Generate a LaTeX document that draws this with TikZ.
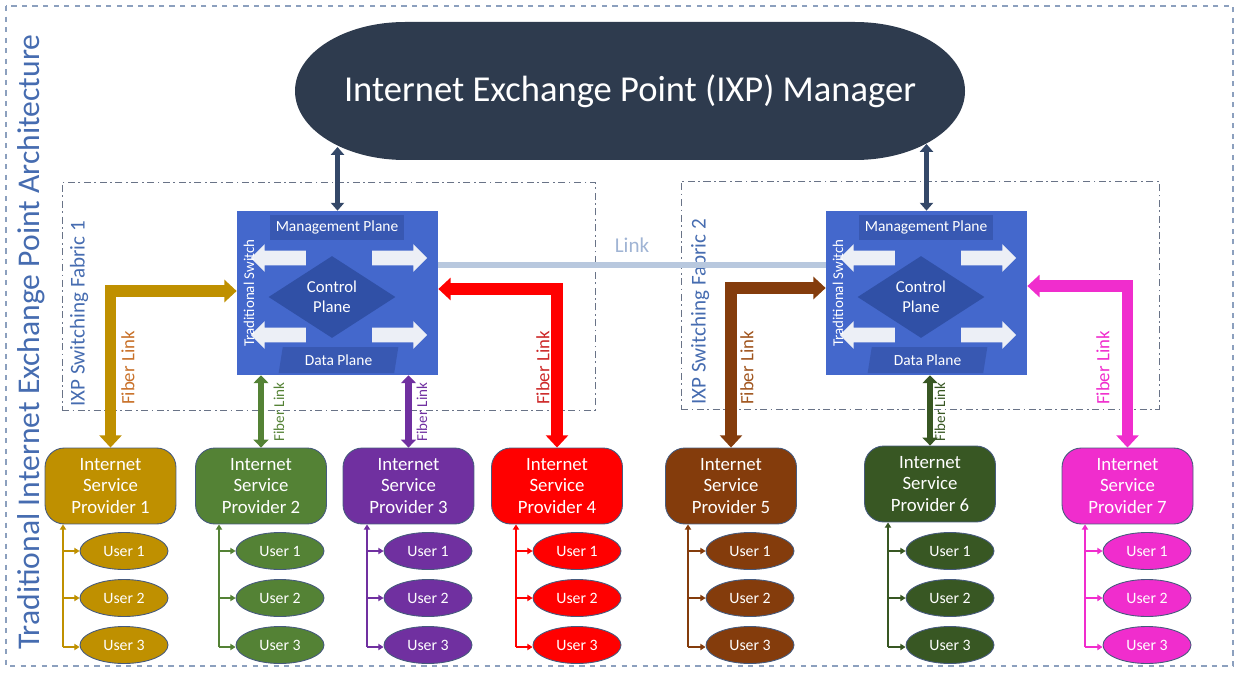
\documentclass[tikz,border=0pt]{standalone}
\usepackage{fontspec}
\setmainfont{Carlito}
\usepackage{tikz}
\usetikzlibrary{shapes,arrows.meta,positioning}

\definecolor{titleblue}{RGB}{70,108,176}
\definecolor{outerline}{RGB}{140,160,190}
\definecolor{fabricline}{RGB}{105,115,135}
\definecolor{mgrnavy}{RGB}{46,59,78}
\definecolor{mgrarrow}{RGB}{52,72,104}
\definecolor{switchblue}{RGB}{68,104,204}
\definecolor{planeblue}{RGB}{56,88,178}
\definecolor{ctrlblue}{RGB}{48,80,166}
\definecolor{whitearrow}{RGB}{236,239,246}
\definecolor{linkgrey}{RGB}{184,200,222}
\definecolor{linktext}{RGB}{160,180,212}
\definecolor{edgegrey}{RGB}{70,90,125}
\definecolor{ispgold}{RGB}{191,144,0}
\definecolor{ispgreen}{RGB}{84,130,53}
\definecolor{isppurple}{RGB}{112,48,160}
\definecolor{ispred}{RGB}{255,0,0}
\definecolor{ispbrown}{RGB}{132,60,12}
\definecolor{ispdkgreen}{RGB}{56,87,35}
\definecolor{isppink}{RGB}{240,45,205}
\definecolor{goldlabel}{RGB}{200,112,40}
\definecolor{redlabel}{RGB}{205,40,40}
\definecolor{brownlabel}{RGB}{160,85,30}

\tikzstyle{outer} = [draw=outerline, dashed, line width=0.6pt]
\tikzstyle{fabric} = [draw=fabricline, line width=0.5pt, dash pattern=on 4pt off 2pt on 1pt off 2pt, minimum height=4.56cm, inner sep=0pt]
\tikzstyle{fabriclabel} = [text=titleblue, rotate=90, anchor=west, font=\fontsize{12}{14}\selectfont, inner sep=0pt]
\tikzstyle{title} = [text=titleblue, rotate=90, font=\fontsize{18}{21}\selectfont, inner sep=0pt]
\tikzstyle{mgr} = [text=white, minimum width=13.4cm, minimum height=2.76cm, font=\fontsize{20.8}{24}\selectfont]
\tikzstyle{mgrlink} = [draw=mgrarrow, line width=2.6pt, {Triangle[width=7.5pt,length=4.5pt]}-{Triangle[width=7.5pt,length=4.5pt]}]
\tikzstyle{switch} = [fill=switchblue, minimum width=4.02cm, minimum height=3.28cm, inner sep=0pt]
\tikzstyle{plane} = [fill=planeblue, text=white, font=\fontsize{8.8}{10}\selectfont, inner sep=0pt]
\tikzstyle{ctrl} = [diamond, fill=ctrlblue, text=white, align=center, minimum width=2.54cm, minimum height=1.6cm, inner sep=0pt, font=\fontsize{9.5}{11.5}\selectfont]
\tikzstyle{warrow} = [single arrow, fill=whitearrow, minimum height=1.1cm, inner sep=0.14cm, single arrow head extend=0.13cm]
\tikzstyle{swlabel} = [text=white, rotate=90, font=\fontsize{8.5}{10}\selectfont, inner sep=0pt]
\tikzstyle{ixplink} = [draw=linkgrey, line width=3.8pt]
\tikzstyle{fiber} = [line width=6.5pt, line join=miter, {Triangle[width=12.5pt,length=7pt]}-{Triangle[width=12.5pt,length=7pt]}]
\tikzstyle{fiberthin} = [line width=3.6pt, {Triangle[width=8.5pt,length=4.5pt]}-{Triangle[width=8.5pt,length=4.5pt]}]
\tikzstyle{fiberlabel} = [rotate=90, font=\fontsize{10.7}{12}\selectfont, inner sep=0pt]
\tikzstyle{fibersmall} = [rotate=90, font=\fontsize{8.6}{10}\selectfont, inner sep=0pt]
\tikzstyle{isp} = [rounded corners=11pt, draw=edgegrey, line width=0.5pt, text=white, align=center, minimum width=2.62cm, minimum height=1.52cm, inner sep=0pt, font=\fontsize{10.7}{12.5}\selectfont]
\tikzstyle{user} = [ellipse, draw=edgegrey, line width=0.5pt, text=white, minimum width=1.76cm, minimum height=0.74cm, inner sep=0pt, font=\fontsize{9}{10}\selectfont]
\tikzstyle{branch} = [line width=0.7pt, -{Triangle[width=3.6pt,length=3pt]}]

\begin{document}
\begin{tikzpicture}[x=0.02cm, y=-0.02cm]
	\useasboundingbox (0,0) rectangle (1239,672);

	% frame and title
	\draw [outer] (6,6) rectangle (1233,666);
	\node [title] (ttl) at (31,342) {Traditional Internet Exchange Point Architecture};

	% switching fabrics
	\node [fabric, minimum width=10.66cm] (f1) at (328.5,296) {};
	\node [fabric, minimum width=9.56cm] (f2) at (920,295) {};
	\node [fabriclabel] (fl1) at (79,407) {IXP Switching Fabric 1};
	\node [fabriclabel] (fl2) at (700,405) {IXP Switching Fabric 2};

	% manager
	\fill [mgrnavy] (405,22) -- (855,22) arc[start angle=-90, end angle=90, x radius=110, y radius=69]
		-- (405,160) arc[start angle=90, end angle=270, x radius=110, y radius=69] -- cycle;
	\node [mgr] (mgr) at (630,91) {Internet Exchange Point (IXP) Manager};

	% switches
	\node [switch] (s1) at (337.5,293) {};
	\node [plane, minimum width=2.68cm, minimum height=0.5cm] (mp1) at (337,227.5) {Management Plane};
	\node [ctrl] (cp1) at (332,297) {Control\\Plane};
	\node [plane, trapezium, trapezium left angle=77, trapezium right angle=103, trapezium stretches=true, minimum width=2.4cm, minimum height=0.52cm] (dp1) at (338.5,360) {Data Plane};
	\node [warrow, shape border rotate=180] (a11) at (282,258) {};
	\node [warrow] (a12) at (396,258) {};
	\node [warrow, shape border rotate=180] (a13) at (282,335) {};
	\node [warrow] (a14) at (396,335) {};
	\node [swlabel] (ts1) at (249,293) {Traditional Switch};

	\node [switch] (s2) at (926.5,293) {};
	\node [plane, minimum width=2.68cm, minimum height=0.5cm] (mp2) at (926,227.5) {Management Plane};
	\node [ctrl] (cp2) at (921,297) {Control\\Plane};
	\node [plane, trapezium, trapezium left angle=77, trapezium right angle=103, trapezium stretches=true, minimum width=2.4cm, minimum height=0.52cm] (dp2) at (927.5,360) {Data Plane};
	\node [warrow, shape border rotate=180] (a21) at (871,258) {};
	\node [warrow] (a22) at (985,258) {};
	\node [warrow, shape border rotate=180] (a23) at (871,335) {};
	\node [warrow] (a24) at (985,335) {};
	\node [swlabel] (ts2) at (838,293) {Traditional Switch};

	\coordinate (mt1) at (337.5,147);
	\coordinate (mt2) at (926.5,144);
	\draw [mgrlink] (mt1) -- (s1.north);
	\draw [mgrlink] (mt2) -- (s2.north);

	\draw [ixplink] ([yshift=0.56cm]s1.east) -- node[above=2pt, text=linktext, font=\fontsize{12}{14}\selectfont] {Link} ([yshift=0.56cm]s2.west);

	% providers
	\node [isp, fill=ispgold] (i1) at (110.5,486) {Internet\\Service\\Provider 1};
	\node [isp, fill=ispgreen] (i2) at (261,486) {Internet\\Service\\Provider 2};
	\node [isp, fill=isppurple] (i3) at (408.5,486) {Internet\\Service\\Provider 3};
	\node [isp, fill=ispred] (i4) at (557,486) {Internet\\Service\\Provider 4};
	\node [isp, fill=ispbrown] (i5) at (731,486) {Internet\\Service\\Provider 5};
	\node [isp, fill=ispdkgreen] (i6) at (930,484) {Internet\\Service\\Provider 6};
	\node [isp, fill=isppink] (i7) at (1127.5,486) {Internet\\Service\\Provider 7};

	% fiber links
	\draw [fiber, ispgold] (i1.north) |- ([yshift=0.04cm]s1.west);
	\draw [fiber, ispred] ([yshift=0.08cm]s1.east) -| (i4.north);
	\draw [fiber, ispbrown] (i5.north) |- ([yshift=0.1cm]s2.west);
	\draw [fiber, isppink] ([yshift=0.14cm]s2.east) -| (i7.north);
	\draw [fiberthin, ispgreen] (i2.north |- s1.south) -- (i2.north);
	\draw [fiberthin, isppurple] (i3.north |- s1.south) -- (i3.north);
	\draw [fiberthin, ispdkgreen] (i6.north |- s2.south) -- (i6.north);
	\node [fiberlabel, text=goldlabel] (fk1) at (128,368) {Fiber Link};
	\node [fiberlabel, text=redlabel] (fk4) at (543,368) {Fiber Link};
	\node [fiberlabel, text=brownlabel] (fk5) at (747,368) {Fiber Link};
	\node [fiberlabel, text=isppink] (fk7) at (1103,368) {Fiber Link};
	\node [fibersmall, text=ispgreen] (fk2) at (279,412) {Fiber Link};
	\node [fibersmall, text=isppurple] (fk3) at (422,412) {Fiber Link};
	\node [fibersmall, text=ispdkgreen] (fk6) at (940,412) {Fiber Link};

	% users
	\node [user, fill=ispgold] (u11) at (124,551) {User 1};
	\node [user, fill=ispgold] (u12) at (124,598) {User 2};
	\node [user, fill=ispgold] (u13) at (124,645) {User 3};
	\node [user, fill=ispgreen] (u21) at (280,551) {User 1};
	\node [user, fill=ispgreen] (u22) at (280,598) {User 2};
	\node [user, fill=ispgreen] (u23) at (280,645) {User 3};
	\node [user, fill=isppurple] (u31) at (428,551) {User 1};
	\node [user, fill=isppurple] (u32) at (428,598) {User 2};
	\node [user, fill=isppurple] (u33) at (428,645) {User 3};
	\node [user, fill=ispred] (u41) at (577,551) {User 1};
	\node [user, fill=ispred] (u42) at (577,598) {User 2};
	\node [user, fill=ispred] (u43) at (577,645) {User 3};
	\node [user, fill=ispbrown] (u51) at (750,551) {User 1};
	\node [user, fill=ispbrown] (u52) at (750,598) {User 2};
	\node [user, fill=ispbrown] (u53) at (750,645) {User 3};
	\node [user, fill=ispdkgreen] (u61) at (950,551) {User 1};
	\node [user, fill=ispdkgreen] (u62) at (950,598) {User 2};
	\node [user, fill=ispdkgreen] (u63) at (950,645) {User 3};
	\node [user, fill=isppink] (u71) at (1147,551) {User 1};
	\node [user, fill=isppink] (u72) at (1147,598) {User 2};
	\node [user, fill=isppink] (u73) at (1147,645) {User 3};

	\coordinate (t1) at (63,647);
	\coordinate (t2) at (219,647);
	\coordinate (t3) at (367,647);
	\coordinate (t4) at (516,647);
	\coordinate (t5) at (688,647);
	\coordinate (t6) at (888,647);
	\coordinate (t7) at (1085,647);

	\draw [branch, ispgold] (t1) -- (t1 |- i1.south);
	\draw [branch, ispgold] (t1 |- u11) -- (u11);
	\draw [branch, ispgold] (t1 |- u12) -- (u12);
	\draw [branch, ispgold] (t1) -- (t1 -| u13.west);
	\draw [branch, ispgreen] (t2) -- (t2 |- i2.south);
	\draw [branch, ispgreen] (t2 |- u21) -- (u21);
	\draw [branch, ispgreen] (t2 |- u22) -- (u22);
	\draw [branch, ispgreen] (t2) -- (t2 -| u23.west);
	\draw [branch, isppurple] (t3) -- (t3 |- i3.south);
	\draw [branch, isppurple] (t3 |- u31) -- (u31);
	\draw [branch, isppurple] (t3 |- u32) -- (u32);
	\draw [branch, isppurple] (t3) -- (t3 -| u33.west);
	\draw [branch, ispred] (t4) -- (t4 |- i4.south);
	\draw [branch, ispred] (t4 |- u41) -- (u41);
	\draw [branch, ispred] (t4 |- u42) -- (u42);
	\draw [branch, ispred] (t4) -- (t4 -| u43.west);
	\draw [branch, ispbrown] (t5) -- (t5 |- i5.south);
	\draw [branch, ispbrown] (t5 |- u51) -- (u51);
	\draw [branch, ispbrown] (t5 |- u52) -- (u52);
	\draw [branch, ispbrown] (t5) -- (t5 -| u53.west);
	\draw [branch, ispdkgreen] (t6) -- (t6 |- i6.south);
	\draw [branch, ispdkgreen] (t6 |- u61) -- (u61);
	\draw [branch, ispdkgreen] (t6 |- u62) -- (u62);
	\draw [branch, ispdkgreen] (t6) -- (t6 -| u63.west);
	\draw [branch, isppink] (t7) -- (t7 |- i7.south);
	\draw [branch, isppink] (t7 |- u71) -- (u71);
	\draw [branch, isppink] (t7 |- u72) -- (u72);
	\draw [branch, isppink] (t7) -- (t7 -| u73.west);
\end{tikzpicture}
\end{document}
